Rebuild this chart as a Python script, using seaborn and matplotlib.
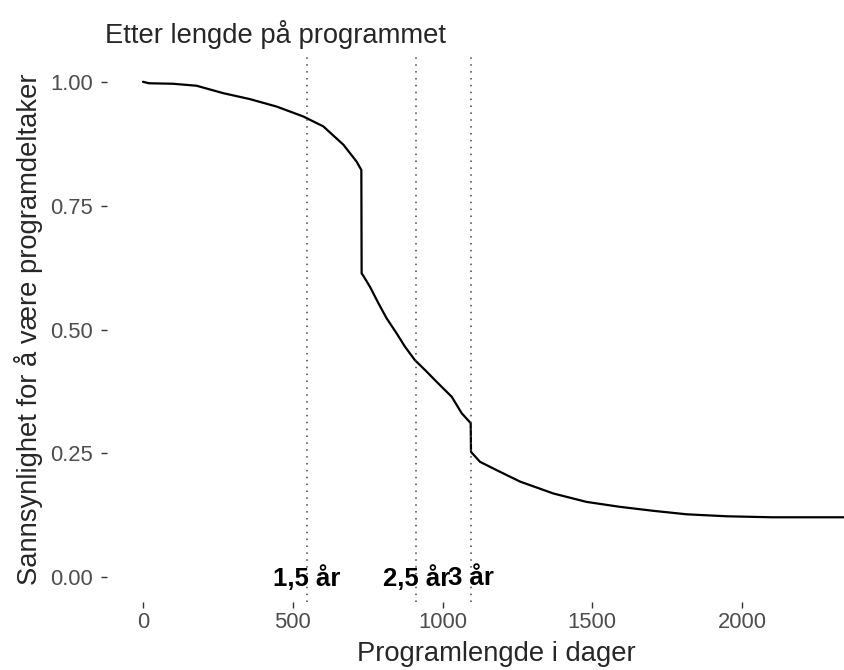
import pandas as pd
import matplotlib.pyplot as plt
import seaborn as sns

# Survival curve (days, probability of still being in programme)
days = [0, 20, 100, 179, 268, 357, 446, 535, 602, 669, 713, 729, 730,
        734, 758, 786, 813, 847, 875, 908, 942, 986, 1031, 1064, 1094,
        1095, 1125, 1181, 1259, 1370, 1481, 1593, 1704, 1815, 1949, 2100, 2500]
surv = [1.0, 0.997, 0.996, 0.992, 0.977, 0.965, 0.950, 0.930, 0.910, 0.873, 0.839, 0.822, 0.613,
        0.610, 0.586, 0.553, 0.523, 0.492, 0.465, 0.438, 0.418, 0.391, 0.364, 0.331, 0.311,
        0.253, 0.233, 0.216, 0.193, 0.169, 0.152, 0.142, 0.134, 0.127, 0.123, 0.121, 0.121]

# Reference lines
milestones = [547.5, 912.5, 1095]
milestone_labels = ["1,5 år", "2,5 år", "3 år"]

x_ticks = [0, 500, 1000, 1500, 2000]
y_ticks = [0.0, 0.25, 0.5, 0.75, 1.0]

df = pd.DataFrame({"dager": days, "andel": surv})

sns.set_theme(style="ticks")
plt.rcParams["font.family"] = ["Liberation Sans", "DejaVu Sans"]

fig = plt.figure(figsize=(8.45, 6.7), dpi=100)
ax = fig.add_axes([107 / 845, 68 / 670, 778 / 845, 545 / 670])

sns.lineplot(data=df, x="dager", y="andel", sort=False, estimator=None,
             color="black", linewidth=1.6, ax=ax)

for m, lab in zip(milestones, milestone_labels):
    ax.axvline(m, color="#444444", linestyle=(0, (1, 3.5)), linewidth=1.1)
    ax.text(m, -0.002, lab, ha="center", va="center", fontsize=18.5,
            fontweight="bold", color="black")

ax.set_xlim(-120, 2477)
ax.set_ylim(-0.05, 1.05)
ax.set_xticks(x_ticks)
ax.set_yticks(y_ticks)
ax.set_yticklabels([f"{v:.2f}" for v in y_ticks])

ax.tick_params(axis="both", labelsize=15.8, labelcolor="#4D4D4D",
               color="#333333", length=4, width=1)
ax.tick_params(axis="y", pad=6)
ax.tick_params(axis="x", pad=3)

ax.set_xlabel("Programlengde i dager", fontsize=19.7, labelpad=6)
ax.set_ylabel("Sannsynlighet for å være programdeltaker", fontsize=19.7, labelpad=5)
ax.set_title("Etter lengde på programmet", loc="left", fontsize=19.7, pad=10, x=-0.003)

sns.despine(ax=ax, left=True, bottom=True)

fig.savefig("out.png", dpi=100)
